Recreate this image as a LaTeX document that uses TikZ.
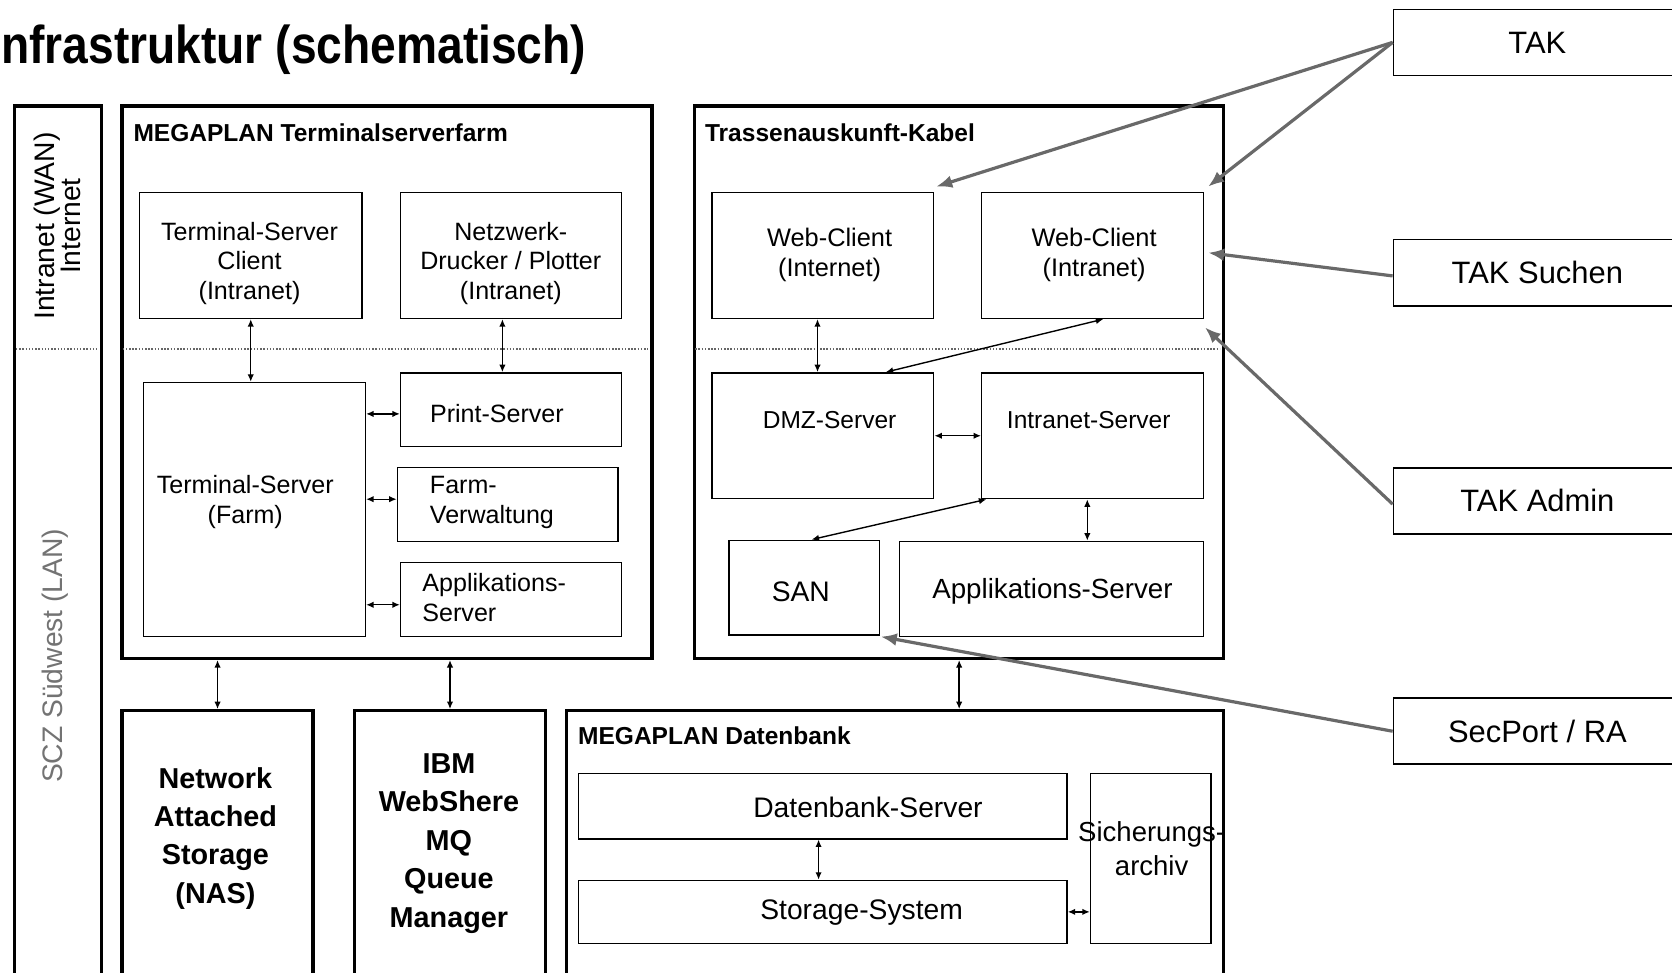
\documentclass[tikz,border=0pt]{standalone}
\usepackage{fontspec}
\setmainfont{Liberation Sans}
\usetikzlibrary{arrows.meta}
\definecolor{arrowgray}{RGB}{105,105,105}
\definecolor{lantext}{RGB}{115,115,115}
\begin{document}
\begin{tikzpicture}[x=1pt,y=-1pt,
  obox/.style={draw, line width=3pt, anchor=north west, inner sep=0pt},
  ibox/.style={draw, line width=1.3pt, anchor=north west, inner sep=0pt},
  lbl/.style={align=center, inner sep=0pt, font=\fontsize{23.5}{28}\selectfont},
  lblbig/.style={align=center, inner sep=0pt, font=\fontsize{26}{30}\selectfont},
  ttl/.style={anchor=base west, inner sep=0pt, font=\fontsize{23}{27}\bfseries\selectfont},
  bigtext/.style={align=center, inner sep=0pt, font=\fontsize{27}{36}\bfseries\selectfont},
  tagbox/.style={draw, line width=1.5pt, anchor=north west, minimum width=270, minimum height=62, inner sep=0pt, font=\fontsize{29}{34}\selectfont},
  link/.style={line width=1.3pt, {Latex[length=7pt,width=6pt]}-{Latex[length=7pt,width=6pt]}},
  pointer/.style={line width=3pt, draw=arrowgray, -{Latex[length=15pt,width=12pt]}},
  dotsep/.style={line width=1.7pt, draw=black!60, dash pattern=on 1.4pt off 1.6pt}
]
\path[use as bounding box] (0,0) rectangle (1568,912);
\clip (0,0) rectangle (1568,912);

% title
\node[anchor=base west, inner sep=0pt] (title) at (1,60)
  {\fontsize{50}{60}\bfseries\selectfont\scalebox{0.866}[1]{nfrastruktur (schematisch)}};

% left bar
\node[obox, minimum width=82, minimum height=832] (lb) at (12,98) {};
\node[rotate=90, align=center, inner sep=0pt, font=\fontsize{26.5}{24}\selectfont] (wan) at (54,212) {Intranet (WAN)\\Internet};
\node[rotate=90, inner sep=0pt, text=lantext, font=\fontsize{26.5}{28}\selectfont] (lan) at (52,615) {SCZ Südwest (LAN)};

% outer boxes
\node[obox, minimum width=497, minimum height=518] (farm) at (113,98) {};
\node[obox, minimum width=496, minimum height=518] (tk) at (650,98) {};
\node[obox, minimum width=179, minimum height=300] (nas) at (113,665) {};
\node[obox, minimum width=179, minimum height=300] (ibm) at (331,665) {};
\node[obox, minimum width=616, minimum height=300] (db) at (530,665) {};

% dotted separators
\draw[dotsep] (15,327) -- (92,327);
\draw[dotsep] (115,327) -- (608,327);
\draw[dotsep] (652,327) -- (1144,327);

% farm content
\node[ttl] (farmtitle) at (125,133) {MEGAPLAN Terminalserverfarm};
\node[ibox, minimum width=209, minimum height=118] (tsc) at (130,180) {};
\node[lbl] (tsct) at (234,247) {Terminal-Server\\Client\\(Intranet)};
\node[ibox, minimum width=207, minimum height=118] (ndp) at (375,180) {};
\node[lbl] (ndpt) at (479,247) {Netzwerk-\\Drucker / Plotter\\(Intranet)};
\node[ibox, minimum width=208, minimum height=238] (tsf) at (134,358) {};
\node[lbl] (tsft) at (230,471) {Terminal-Server\\(Farm)};
\node[ibox, minimum width=207, minimum height=69] (ps) at (375,349) {};
\node[lbl] (pst) at (466,388) {Print-Server};
\node[ibox, minimum width=207, minimum height=69] (fv) at (372,438) {};
\node[lbl, anchor=west, align=left] (fvt) at (403,471) {Farm-\\Verwaltung};
\node[ibox, minimum width=207, minimum height=69] (appf) at (375,527) {};
\node[lbl, anchor=west, align=left] (appft) at (396,560) {Applikations-\\Server};

\draw[link] (tsc.south) -- (tsc.south |- tsf.north);
\draw[link] ([xshift=-8pt]ndp.south) -- ([xshift=-8pt]ndp.south |- ps.north);
\draw[link] ([yshift=-4pt]ps.west) -- ([yshift=-4pt]ps.west -| tsf.east);
\draw[link] ([yshift=5pt]fv.west) -- ([yshift=5pt]fv.west -| tsf.east);
\draw[link] ([yshift=-5pt]appf.west) -- ([yshift=-5pt]appf.west -| tsf.east);

% Trassenauskunft content
\node[ttl] (tktitle) at (661,133) {Trassenauskunft-Kabel};
\node[ibox, minimum width=208, minimum height=118] (wci) at (667,180) {};
\node[lbl, font=\fontsize{23.8}{28}\selectfont] (wcit) at (778,239) {Web-Client\\(Internet)};
\node[ibox, minimum width=208, minimum height=118] (wcn) at (920,180) {};
\node[lbl, font=\fontsize{23.8}{28}\selectfont] (wcnt) at (1026,239) {Web-Client\\(Intranet)};
\node[ibox, minimum width=208, minimum height=118] (dmz) at (667,349) {};
\node[lbl, font=\fontsize{23}{28}\selectfont] (dmzt) at (778,394) {DMZ-Server};
\node[ibox, minimum width=208, minimum height=118] (ins) at (920,349) {};
\node[lbl, font=\fontsize{23}{28}\selectfont] (inst) at (1021,394) {Intranet-Server};
\node[ibox, minimum width=141, minimum height=89] (san) at (683,506) {};
\node[lblbig, font=\fontsize{26.5}{30}\selectfont] (sant) at (751,555) {SAN};
\node[ibox, minimum width=285, minimum height=89] (apt) at (843,507) {};
\node[lblbig] (aptt) at (987,555) {Applikations-Server};

\draw[link] ([xshift=-5pt]wci.south) -- ([xshift=-5pt]wci.south |- dmz.north);
\draw[link] ([xshift=10pt]wcn.south) -- ([xshift=59pt]dmz.north);
\draw[link] (dmz.east) -- (dmz.east -| ins.west);
\draw[link] ([xshift=5pt]ins.south west) -- ([xshift=7pt]san.north);
\draw[link] ([xshift=-5pt]ins.south) -- ([xshift=-5pt]ins.south |- apt.north);

% bottom row
\draw[link] (nas.north) -- (nas.north |- farm.south);
\draw[link] (ibm.north) -- (ibm.north |- farm.south);
\draw[link] (tk.south) -- (tk.south |- db.north);

\node[bigtext] (nast) at (202,786) {Network\\Attached\\Storage\\(NAS)};
\node[bigtext] (ibmt) at (421,791) {IBM\\WebShere\\MQ\\Queue\\Manager};

\node[ttl] (dbtitle) at (542,698) {MEGAPLAN Datenbank};
\node[ibox, minimum width=458, minimum height=61] (dbs) at (542,725) {};
\node[lbl, font=\fontsize{26.5}{30}\selectfont] (dbst) at (814,757) {Datenbank-Server};
\node[ibox, minimum width=458, minimum height=59] (ss) at (542,825) {};
\node[lbl, font=\fontsize{26.5}{30}\selectfont] (sst) at (808,856) {Storage-System};
\node[ibox, minimum width=113, minimum height=159] (sa) at (1022,725) {};
\node[lbl, font=\fontsize{25.8}{32}\selectfont] (sat) at (1080,796) {Sicherungs-\\archiv};

\draw[link] ([xshift=-4pt]dbs.south) -- ([xshift=-4pt]dbs.south |- ss.north);
\draw[link] (ss.east) -- (ss.east -| sa.west);

% right tags
\node[tagbox] (tak) at (1306,8) {TAK};
\node[tagbox] (tks) at (1306,224) {TAK Suchen};
\node[tagbox] (tka) at (1306,438) {TAK Admin};
\node[tagbox] (sec) at (1306,654) {SecPort / RA};

\coordinate (pwci) at (878,175);
\coordinate (pwcn) at (1133,175);
\coordinate (ps2) at (1133,237);
\coordinate (pa) at (1130,307);
\coordinate (psan) at (826,597);

\draw[pointer] (tak.west) -- (pwci);
\draw[pointer] (tak.west) -- (pwcn);
\draw[pointer] ([yshift=-3pt]tks.west) -- (ps2);
\draw[pointer] ([yshift=-3pt]tka.west) -- (pa);
\draw[pointer] (sec.west) -- (psan);
\end{tikzpicture}
\end{document}
